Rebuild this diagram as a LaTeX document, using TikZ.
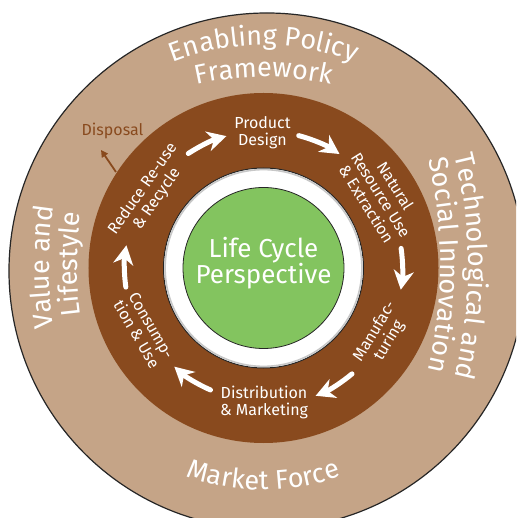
\documentclass[tikz,border=0pt]{standalone}
\usepackage{fontspec}
\setmainfont{Fira Sans}
\usetikzlibrary{arrows.meta,decorations.text}

\definecolor{tanring}{HTML}{C5A487}
\definecolor{brownring}{HTML}{894A1E}
\definecolor{leafgreen}{HTML}{83C45F}

\newcommand\ringfont{\fontsize{27}{27}\selectfont}

\begin{document}
\begin{tikzpicture}[x=1pt,y=1pt,
  stagelabel/.style={text=white, font=\fontsize{16}{17}\selectfont, align=center, inner sep=0pt},
  flowarrow/.style={white, line width=5pt, line cap=round,
    -{Stealth[length=19pt,width=20pt,inset=6pt]}},
  ringlabel/.style={decorate, decoration={text along path, text align=center,
    text={|\ringfont\color{white}|#1}}}]

% canvas
\useasboundingbox (-263.5,-250) rectangle (252.5,268);
\clip (-263.5,-250) rectangle (252.5,268);
\fill[white] (-263.5,-250) rectangle (252.5,268);

% rings
\draw[fill=tanring, draw=black!85, line width=1.2pt] (3.5,-3) circle[radius=258];
\fill[brownring] (0,0) circle[radius=175];
\draw[fill=white, draw=black!85, line width=1pt] (0,0) circle[radius=100];
\draw[black!22, line width=1.6pt] (0,0) circle[radius=98.4];
\draw[fill=leafgreen, draw=black!85, line width=0.8pt] (0,0) circle[radius=80.5];

% centre title
\node[text=white, font=\fontsize{26}{26}\selectfont, align=center, inner sep=0pt]
  (lcp) at (0,5) {Life Cycle\\Perspective};

% outer ring labels
\path[shift={(0,-27)}, ringlabel={Enabling Policy}]
  (125:250) arc[start angle=125, end angle=55, radius=250];
\path[shift={(0,-109)}, ringlabel={Framework}]
  (115:300) arc[start angle=115, end angle=65, radius=300];
\path[shift={(0,-2)}, ringlabel={Market Force}]
  (-130:220) arc[start angle=-130, end angle=-50, radius=220];
\path[shift={(185.5,1)}, ringlabel={Value and}]
  (200:400) arc[start angle=200, end angle=160, radius=400];
\path[shift={(213.5,3.5)}, ringlabel={Lifestyle}]
  (200:400) arc[start angle=200, end angle=160, radius=400];
\path[shift={(-245,1.5)}, ringlabel={Technological and}]
  (20:450) arc[start angle=20, end angle=-20, radius=450];
\path[shift={(-273,3)}, ringlabel={Social Innovation}]
  (20:450) arc[start angle=20, end angle=-20, radius=450];

% life cycle stages
\node[stagelabel] (design) at (-1,135.5) {Product\\Design};
\node[stagelabel, rotate=-58] (extract) at (117.5,73) {Natural\\Resource Use\\\& Extraction};
\node[stagelabel, rotate=59] (manuf) at (118.5,-68) {Manufac-\\turing};
\node[stagelabel] (distrib) at (0.5,-134) {Distribution\\\& Marketing};
\node[stagelabel, rotate=-60] (consume) at (-119.5,-62) {Consump-\\tion \& Use};
\node[stagelabel, rotate=55] (recycle) at (-113.5,74) {Reduce Re-use\\\& Recycle};

% flow arrows between stages
\coordinate (a1) at (123.3:137);
\coordinate (a2) at (75.1:137);
\coordinate (a3) at (8.1:139);
\coordinate (a4) at (-50.1:138);
\coordinate (a5) at (-113.5:133);
\coordinate (a6) at (187.9:139);
\draw[flowarrow] (a1) arc[start angle=123.3, end angle=105.7, radius=137];
\draw[flowarrow] (a2) arc[start angle=75.1, end angle=56.3, radius=137];
\draw[flowarrow] (a3) arc[start angle=8.1, end angle=-9, radius=139];
\draw[flowarrow] (a4) arc[start angle=-50.1, end angle=-67.8, radius=138];
\draw[flowarrow] (a5) arc[start angle=-113.5, end angle=-132.1, radius=133];
\draw[flowarrow] (a6) arc[start angle=187.9, end angle=170.6, radius=139];

% disposal outlet
\node[text=brownring, font=\fontsize{16}{16}\selectfont, inner sep=0pt] (disposal) at (-151,137) {Disposal};
\coordinate (dispfrom) at (-147.5,96);
\coordinate (dispto) at (-162.5,118);
\draw[brownring, line width=1.8pt, -{Triangle[length=7pt,width=7pt]}] (dispfrom) -- (dispto);
\end{tikzpicture}
\end{document}
